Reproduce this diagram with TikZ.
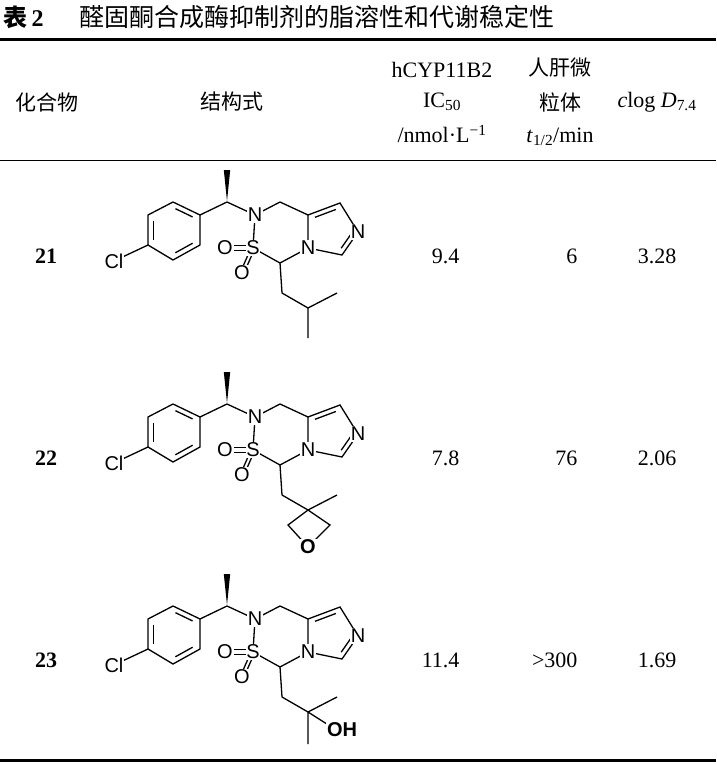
\documentclass[tikz,border=0pt]{standalone}
\usepackage{fontspec}
\setmainfont{Liberation Serif}
\newfontfamily\cjk{Noto Sans CJK SC}
\newfontfamily\chem{Liberation Sans}
\usetikzlibrary{calc}
\begin{document}
\begin{tikzpicture}[x=1pt,y=-1pt,
  bond/.style={line width=1.3pt},
  atom/.style={fill=white,inner sep=0.8pt,font=\chem\fontsize{20}{20}\selectfont},
  txt/.style={font=\fontsize{22}{24}\selectfont},
  ctxt/.style={font=\cjk\fontsize{21}{24}\selectfont},
  rule/.style={line width=#1}]
\useasboundingbox (0,0) rectangle (716,765);
\newcommand{\innerb}[3]{\draw[bond,shorten <=2.5pt,shorten >=2.5pt] ($(#1)!.2!(#3)$) -- ($(#2)!.2!(#3)$);}
% title
\node[anchor=west,font=\fontsize{24}{26}\selectfont] (t1) at (0,17) {{\cjk\bfseries 表}\,\textbf{2}};
\node[anchor=west,font=\cjk\fontsize{25}{26}\selectfont] (t2) at (76,17) {醛固酮合成酶抑制剂的脂溶性和代谢稳定性};
% rules
\coordinate (r1a) at (0,40); \coordinate (r1b) at (716,40);
\coordinate (r2a) at (0,160); \coordinate (r2b) at (716,160);
\coordinate (r3a) at (0,760); \coordinate (r3b) at (716,760);
\draw[rule=3pt] (r1a) -- (r1b);
\draw[rule=0.8pt] (r2a) -- (r2b);
\draw[rule=3pt] (r3a) -- (r3b);
% header
\node[ctxt] (h1) at (47,102) {化合物};
\node[ctxt] (h2) at (232,102) {结构式};
\node[txt] (h3a) at (442,70) {hCYP11B2};
\node[txt] (h3b) at (442,102) {IC\textsubscript{50}};
\node[txt] (h3c) at (442,134) {/nmol·L\textsuperscript{−1}};
\node[ctxt] (h4a) at (560,68) {人肝微};
\node[ctxt] (h4b) at (560,102) {粒体};
\node[txt] (h4c) at (560,137) {\textit{t}\textsubscript{1/2}/min};
\node[txt] (h5) at (657,102) {\textit{c}log \textit{D}\textsubscript{7.4}};
% rows
\foreach \off/\num/\ic/\th/\cl [count=\i] in {0/21/9.4/6/3.28, 202/22/7.8/76/2.06, 404/23/11.4/>300/1.69}{
  \node[txt,font=\bfseries\fontsize{22}{24}\selectfont] (n\i) at (46,256+\off) {\num};
  \node[txt,anchor=east] (ic\i) at (463,256+\off) {\ic};
  \node[txt,anchor=east] (th\i) at (581,256+\off) {\th};
  \node[txt] (cl\i) at (657,256+\off) {\cl};
  \begin{scope}[shift={(0,\off)}]
    \coordinate (Me) at (227,170);
    \coordinate (Cs) at (227,202);
    \coordinate (N1) at (255,215);
    \coordinate (C7) at (280,202);
    \coordinate (C8) at (308,215);
    \coordinate (C1) at (340,203);
    \coordinate (N2) at (358,232);
    \coordinate (C3) at (342,255);
    \coordinate (N4) at (308,248);
    \coordinate (C5) at (280,263);
    \coordinate (S) at (253,248);
    \coordinate (O1) at (225,248);
    \coordinate (O2) at (242,273);
    \coordinate (Im) at (331,231);
    \coordinate (b1) at (200,215);
    \coordinate (b2) at (173,202);
    \coordinate (b3) at (148,215);
    \coordinate (b4) at (148,245);
    \coordinate (b5) at (173,260);
    \coordinate (b6) at (200,245);
    \coordinate (Bc) at (174,230);
    \coordinate (Cl) at (114,261);
    \coordinate (Ca) at (282,293);
    \coordinate (Cb) at (308,308);
    \fill ($(Cs)+(0,-1)$) -- ($(Me)+(-3.2,0)$) -- ($(Me)+(3.2,0)$) -- cycle;
    \draw[bond] (b1)--(b2)--(b3)--(b4)--(b5)--(b6)--cycle;
    \innerb{b3}{b4}{Bc}\innerb{b1}{b2}{Bc}\innerb{b5}{b6}{Bc}
    \draw[bond] (b4)--(Cl) (b1)--(Cs)--(N1)--(C7)--(C8)--(C1)--(N2)--(C3)--(N4)--(C8)
      (N1)--(S)--(C5)--(N4) (C5)--(Ca);
    \innerb{C8}{C1}{Im}\innerb{N2}{C3}{Im}
    \draw[bond] ($(S)+(0,-2.5)$)--($(O1)+(0,-2.5)$) ($(S)+(0,2.5)$)--($(O1)+(0,2.5)$);
    \draw[bond] ($(S)+(-2.3,0.8)$)--($(O2)+(-2.3,0.8)$) ($(S)+(2.3,-0.8)$)--($(O2)+(2.3,-0.8)$);
    \ifnum\i=1
      \draw[bond] (Ca)--(Cb)--(337,293) (Cb)--(308,338);
    \fi
    \ifnum\i=2
      \draw[bond] (Ca)--(Cb)--(337,293) (Cb)--(288,323)--(308,345)--(330,323)--cycle;
      \node[atom,font=\chem\bfseries\fontsize{20}{20}\selectfont] (ox) at (308,345) {O};
    \fi
    \ifnum\i=3
      \draw[bond] (Ca)--(Cb)--(337,293) (Cb)--(308,340) (Cb)--(330,322);
      \node[atom,anchor=west,font=\chem\bfseries\fontsize{20}{20}\selectfont] (oh) at (326,326) {OH};
    \fi
    \node[atom] (lN1) at (N1) {N};
    \node[atom] (lN2) at (N2) {N};
    \node[atom] (lN4) at (N4) {N};
    \node[atom] (lS) at (S) {S};
    \node[atom] (lO1) at (O1) {O};
    \node[atom] (lO2) at (O2) {O};
    \node[atom] (lCl) at (Cl) {Cl};
  \end{scope}
}
\end{tikzpicture}
\end{document}
